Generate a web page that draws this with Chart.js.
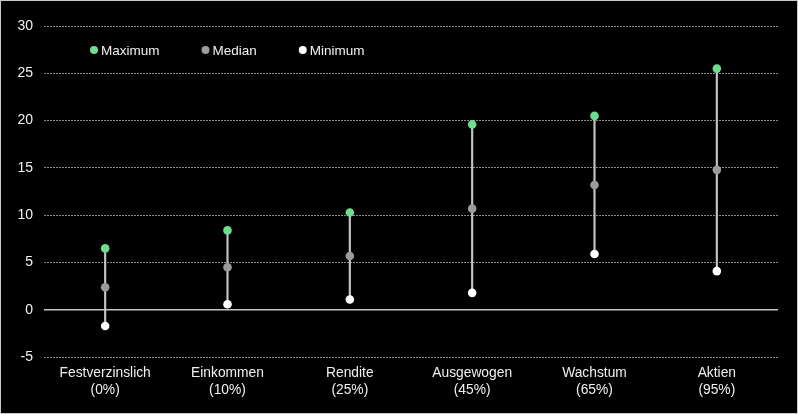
<!DOCTYPE html>
<html>
<head>
<meta charset="utf-8">
<script src="https://cdn.jsdelivr.net/npm/chart.js@4/dist/chart.umd.min.js"></script>
<style>
    html, body { margin: 0; padding: 0; background: #000; }
    #wrap { width: 796px; height: 412px; border: 1px solid #c8c8c8; background: #000; }
    canvas { display: block; }
</style>
</head>
<body>
<div id="wrap"><canvas id="chart" width="796" height="412"></canvas></div>
<script>
'use strict';

// data
const categories = [
    ['Festverzinslich', '(0%)'],
    ['Einkommen', '(10%)'],
    ['Rendite', '(25%)'],
    ['Ausgewogen', '(45%)'],
    ['Wachstum', '(65%)'],
    ['Aktien', '(95%)']
];
const maxValues = [6.5, 8.4, 10.3, 19.6, 20.5, 25.5];
const medianValues = [2.4, 4.5, 5.7, 10.7, 13.2, 14.8];
const minValues = [-1.7, 0.6, 1.1, 1.8, 5.9, 4.1];
const yMin = -5;
const yMax = 30;
const yStep = 5;

const FONT = 'Liberation Sans, Arial, sans-serif';
const TEXT = '#f0f0f0';

// custom legend drawn inside the plot area
const innerLegend = {
    'id': 'innerLegend',
    afterDraw(chart) {
        const ctx = chart.ctx;
        const area = chart.chartArea;
        let x = area.left + 46;
        const y = area.top + 24;
        ctx.save();
        ctx.font = '13.5px ' + FONT;
        ctx.textBaseline = 'middle';
        ctx.textAlign = 'left';
        chart.data.datasets.forEach((ds) => {
            if (ds.type !== 'line') {
                return;
            }
            ctx.fillStyle = ds.pointBackgroundColor;
            ctx.beginPath();
            ctx.arc(x + 4, y, 4, 0, Math.PI * 2);
            ctx.fill();
            ctx.fillStyle = TEXT;
            ctx.fillText(ds.label, x + 11, y + 1);
            x += 11 + ctx.measureText(ds.label).width + 42;
        });
        ctx.restore();
    }
};

const pointSet = (label, values, color, order) => ({
    'type': 'line',
    'label': label,
    'data': values,
    'showLine': false,
    'pointRadius': 4.3,
    'pointHoverRadius': 4.3,
    'pointBorderWidth': 0,
    'pointBackgroundColor': color,
    'borderColor': color,
    'order': order
});

const ctx = document.getElementById('chart').getContext('2d');
const chart = new Chart(ctx, {
    'type': 'bar',
    'data': {
        'labels': categories,
        'datasets': [
            {
                'label': 'Spanne',
                'data': minValues.map((v, i) => [v, maxValues[i]]),
                'backgroundColor': '#c4c4c4',
                'barThickness': 1.5,
                'order': 10
            },
            pointSet('Maximum', maxValues, '#6ddd8e', 3),
            pointSet('Median', medianValues, '#9b9b9b', 2),
            pointSet('Minimum', minValues, '#ffffff', 1)
        ]
    },
    'options': {
        'responsive': false,
        'animation': false,
        'layout': {
            'padding': { 'top': 25, 'right': 19, 'bottom': 7, 'left': 0 }
        },
        'plugins': {
            'legend': { 'display': false },
            'tooltip': { 'enabled': false }
        },
        'scales': {
            'x': {
                'offset': true,
                'grid': { 'display': false, 'drawTicks': false },
                'border': { 'display': false },
                'ticks': {
                    'color': TEXT,
                    'padding': 7,
                    'maxRotation': 0,
                    'font': { 'family': FONT, 'size': 13.8, 'lineHeight': 1.26 }
                }
            },
            'y': {
                'min': yMin,
                'max': yMax,
                'afterFit': (scale) => { scale.width = 43; },
                'grid': {
                    'drawTicks': false,
                    'color': (c) => (c.tick && c.tick.value === 0 ? '#c4c4c4' : '#8c8c8c'),
                    'lineWidth': (c) => (c.tick && c.tick.value === 0 ? 1.5 : 1)
                },
                'border': {
                    'display': false,
                    'dash': (c) => (c.tick && c.tick.value === 0 ? [] : [2, 1])
                },
                'ticks': {
                    'stepSize': yStep,
                    'color': TEXT,
                    'padding': 11,
                    'font': { 'family': FONT, 'size': 14 }
                }
            }
        }
    },
    'plugins': [innerLegend]
});
</script>
</body>
</html>
